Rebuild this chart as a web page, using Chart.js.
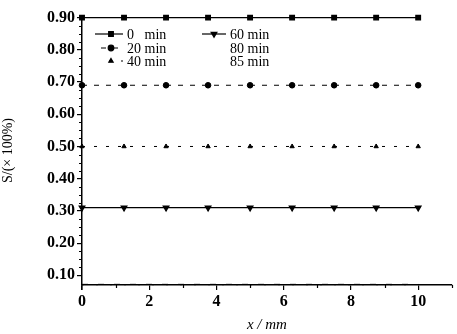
<!DOCTYPE html>
<html>
<head>
<meta charset="utf-8">
<script src="https://cdn.jsdelivr.net/npm/chart.js@4/dist/chart.umd.min.js"></script>
<style>
  html, body { margin: 0; padding: 0; background: #fff; }
  #wrap { width: 457px; height: 334px; }
</style>
</head>
<body>
<div id="wrap"><canvas id="chart"></canvas></div>
<script>
// positions along the sample (mm)
const positions = [0, 1.25, 2.5, 3.75, 5, 6.25, 7.5, 8.75, 10];
// saturation S at each time
const s0min  = [0.90, 0.90, 0.90, 0.90, 0.90, 0.90, 0.90, 0.90, 0.90];
const s20min = [0.69, 0.69, 0.69, 0.69, 0.69, 0.69, 0.69, 0.69, 0.69];
const s40min = [0.50, 0.50, 0.50, 0.50, 0.50, 0.50, 0.50, 0.50, 0.50];
const s60min = [0.31, 0.31, 0.31, 0.31, 0.31, 0.31, 0.31, 0.31, 0.31];
const s80min = [0.072, 0.072, 0.072, 0.072, 0.072, 0.072, 0.072, 0.072, 0.072];
const s85min = [0.071, 0.071, 0.071, 0.071, 0.071, 0.071, 0.071, 0.071, 0.071];
const seriesLabels = ["0   min", "20 min", "40 min", "60 min", "80 min", "85 min"];
const xTicks = [0, 2, 4, 6, 8, 10];
const yTicks = [0.1, 0.2, 0.3, 0.4, 0.5, 0.6, 0.7, 0.8, 0.9];

function pts(arr) {
    return arr.map((v, i) => ({ x: positions[i], y: v }));
}

const serif = "'Liberation Serif', 'DejaVu Serif', serif";

// legend drawn in two columns inside the plot
const legendPlugin = {
    id: "twoColLegend",
    afterDraw(chart) {
        const ctx = chart.ctx;
        const spots = [
            [95, 34], [95, 48], [95, 61],
            [198, 34], [198, 48], [198, 61]
        ];
        ctx.save();
        chart.data.datasets.forEach((ds, i) => {
            const [x, y] = spots[i];
            if (ds.legendSymbol !== false) {
                ctx.strokeStyle = "#000";
                ctx.lineWidth = 1.2;
                ctx.setLineDash(ds.borderDash || []);
                ctx.beginPath();
                ctx.moveTo(x + ds.legendLineFrom, y);
                ctx.lineTo(x + 28, y);
                ctx.stroke();
                ctx.setLineDash([]);
                Chart.helpers.drawPoint(ctx, {
                    pointStyle: ds.pointStyle,
                    radius: ds.pointRadius,
                    rotation: ds.pointRotation || 0,
                    borderWidth: 1
                }, x + 16, y);
            }
            ctx.fillStyle = "#000";
            ctx.font = "14px " + serif;
            ctx.textBaseline = "middle";
            ctx.fillText(ds.label, x + 32, y + 1);
        });
        ctx.restore();
    }
};

// minor ticks on both axes
const minorTicks = {
    id: "minorTicks",
    afterDraw(chart) {
        const ctx = chart.ctx;
        const xs = chart.scales.x, ys = chart.scales.y;
        ctx.save();
        ctx.strokeStyle = "#000";
        ctx.lineWidth = 1.2;
        ctx.beginPath();
        for (let v = 0.1; v < 0.9; v += 0.025) {
            if (Math.abs((v * 10) - Math.round(v * 10)) < 1e-6) continue;
            const py = Math.round(ys.getPixelForValue(v)) + 0.5;
            ctx.moveTo(xs.left - 3, py);
            ctx.lineTo(xs.left, py);
        }
        for (let v = 1; v <= 11; v += 2) {
            const px = Math.round(xs.getPixelForValue(v)) + 0.5;
            ctx.moveTo(px, ys.bottom);
            ctx.lineTo(px, ys.bottom + 3);
        }
        ctx.moveTo(xs.left, ys.bottom);
        ctx.lineTo(xs.left, ys.bottom + 5);
        ctx.stroke();
        ctx.restore();
    }
};

const ctx = document.getElementById("chart").getContext("2d");
new Chart(ctx, {
    type: "line",
    data: {
        datasets: [
            { label: seriesLabels[0], data: pts(s0min), borderColor: "#000", backgroundColor: "#000",
              borderWidth: 1.2, pointStyle: "rect", pointRadius: 3.3, legendLineFrom: 0 },
            { label: seriesLabels[1], data: pts(s20min), borderColor: "#000", backgroundColor: "#000",
              borderWidth: 1, borderDash: [5, 7], pointStyle: "circle", pointRadius: 2.8, legendLineFrom: 6 },
            { label: seriesLabels[2], data: pts(s40min), borderColor: "#000", backgroundColor: "#000",
              borderWidth: 1, borderDash: [3, 9], pointStyle: "triangle", pointRadius: 2.5, legendLineFrom: 14 },
            { label: seriesLabels[3], data: pts(s60min), borderColor: "#000", backgroundColor: "#000",
              borderWidth: 1.2, pointStyle: "triangle", pointRotation: 180, pointRadius: 3.3, legendLineFrom: 4 },
            { label: seriesLabels[4], data: pts(s80min), borderColor: "#000", backgroundColor: "#000",
              borderWidth: 1, borderDash: [6, 10], pointRadius: 0, legendSymbol: false },
            { label: seriesLabels[5], data: pts(s85min), borderColor: "#000", backgroundColor: "#000",
              borderWidth: 1, borderDash: [2, 12], pointRadius: 0, legendSymbol: false }
        ]
    },
    options: {
        responsive: true,
        maintainAspectRatio: false,
        animation: false,
        clip: false,
        layout: { padding: { left: 0, top: 16, right: 2, bottom: 0 } },
        plugins: {
            legend: { display: false },
            tooltip: { enabled: false }
        },
        scales: {
            x: {
                type: "linear",
                min: 0,
                max: 11,
                afterFit(s) { s.height = 49; },
                afterBuildTicks(s) { s.ticks = xTicks.map(v => ({ value: v })); },
                border: { color: "#000", width: 1.5 },
                grid: { drawOnChartArea: false, drawTicks: true, tickLength: 5, color: "#000", lineWidth: 1.2 },
                ticks: {
                    color: "#000",
                    padding: 2,
                    maxRotation: 0,
                    font: { family: serif, size: 16, weight: "bold" }
                },
                title: {
                    display: true,
                    text: "x / mm",
                    color: "#000",
                    padding: { top: 0, bottom: 0 },
                    font: { family: serif, size: 15, style: "italic" }
                }
            },
            y: {
                type: "linear",
                min: 0.07,
                max: 0.905,
                afterFit(s) { s.width = 82; },
                afterBuildTicks(s) { s.ticks = yTicks.map(v => ({ value: v })); },
                border: { color: "#000", width: 1.5 },
                grid: { drawOnChartArea: false, drawTicks: true, tickLength: 5, color: "#000", lineWidth: 1.2 },
                ticks: {
                    color: "#000",
                    padding: 2,
                    font: { family: serif, size: 16, weight: "bold" },
                    callback: v => v.toFixed(2)
                },
                title: {
                    display: true,
                    text: "S/(× 100%)",
                    color: "#000",
                    padding: { top: 0, bottom: 0 },
                    font: { family: serif, size: 14 }
                }
            }
        }
    },
    plugins: [legendPlugin, minorTicks]
});
</script>
</body>
</html>
